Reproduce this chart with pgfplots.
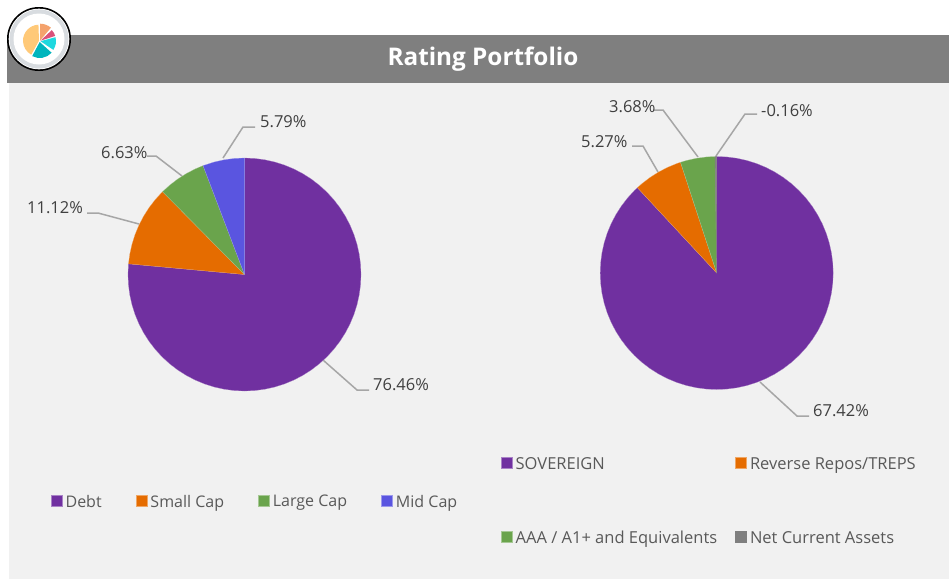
\documentclass[border=0pt]{standalone}
\usepackage{fontspec}
\setmainfont{Open Sans}
\usepackage{pgfplots}
\pgfplotsset{compat=1.18}
\usepgfplotslibrary{polar}
\definecolor{cpurple}{HTML}{7030A0}
\definecolor{corange}{HTML}{E56C00}
\definecolor{cgreen}{HTML}{6AA44C}
\definecolor{cblue}{HTML}{5A55E0}
\definecolor{cgrey}{HTML}{7F7F7F}
\definecolor{cband}{HTML}{7F7F7F}
\definecolor{cbg}{HTML}{F1F1F1}
\definecolor{clead}{HTML}{A6A6A6}
\definecolor{clabel}{HTML}{404040}
\definecolor{clegend}{HTML}{595959}
\definecolor{iring}{HTML}{D8DCE0}
\definecolor{iyellow}{HTML}{FFC978}
\definecolor{iorange}{HTML}{F4A26C}
\definecolor{ipink}{HTML}{D9517A}
\definecolor{icyan}{HTML}{1ED8DF}
\definecolor{iteal}{HTML}{00B5BD}
\pgfplotsset{
  pie/.style={
    scale only axis, width=233pt, height=233pt,
    xmin=0, xmax=360, ymin=0, ymax=1,
    hide axis, clip=false, anchor=center,
    legend cell align=left,
    legend image code/.code={\fill[##1] (0pt,-4pt) rectangle (11pt,7pt);},
  },
  slice/.style={fill=#1, draw=white!40!#1, line width=0.2pt},
}
\newcommand{\fnt}{\fontsize{16.5}{18}\selectfont}
\begin{document}
\begin{tikzpicture}[x=1pt,y=1pt]
\path[use as bounding box] (0,0) rectangle (949pt,579pt);
% page furniture and leader lines, in pixel coordinates
\begin{axis}[at={(0pt,0pt)}, anchor=south west, scale only axis, width=949pt, height=579pt,
  xmin=0, xmax=949, ymin=0, ymax=579, y dir=reverse, hide axis, clip=false]
\addplot[fill=cband, draw=none] coordinates {(7,35)(949,35)(949,82.5)(7,82.5)};
\addplot[fill=cbg, draw=none] coordinates {(9,83)(949,83)(949,579)(9,579)};
\node[text=white, font=\fontsize{24.3}{28}\selectfont\bfseries] at (axis cs:483,59.5) {Rating Portfolio};
% leaders, left pie
\addplot[clead, line width=1.5pt] coordinates {(223,158)(243,127)(255,127)};
\addplot[clead, line width=1.5pt] coordinates {(182,176)(156,156)(147,156)};
\addplot[clead, line width=1.5pt] coordinates {(139,224)(98,213)(87,213)};
\addplot[clead, line width=1.5pt] coordinates {(323,360)(357,390)(369,390)};
% leaders, right pie
\addplot[clead, line width=1.5pt] coordinates {(658,172)(643,146)(632,146)};
\addplot[clead, line width=1.5pt] coordinates {(698,157)(663,110)(653,110)};
\addplot[clead, line width=1.5pt] coordinates {(716,156)(745,114)(757,114)};
\addplot[clead, line width=1.5pt] coordinates {(760,382)(797,416)(809,416)};
% data labels
\begin{scope}[every node/.style={text=clabel, font=\fnt, anchor=base west, inner sep=0pt}]
\node at (axis cs:260,127) {5.79\%};
\node at (axis cs:101,158) {6.63\%};
\node at (axis cs:27,213) {11.12\%};
\node at (axis cs:373,390) {76.46\%};
\node at (axis cs:581,147) {5.27\%};
\node at (axis cs:609,112) {3.68\%};
\node at (axis cs:761,116) {-0.16\%};
\node at (axis cs:813,416) {67.42\%};
\end{scope}
% icon
\fill[black] (axis cs:39,39) circle[radius=32pt];
\fill[white] (axis cs:39,39) circle[radius=30.3pt];
\fill[iring] (axis cs:39,39) circle[radius=29.5pt];
\fill[white] (axis cs:39,39) circle[radius=25.5pt];
\fill[iyellow] (axis cs:39,40.7) -- ++(92:16pt) arc[start angle=92,end angle=241,radius=16pt] -- cycle;
\fill[iorange] (axis cs:40,40.7) -- ++(90:17pt) arc[start angle=90,end angle=50,radius=17pt] -- cycle;
\fill[ipink] (axis cs:40.5,40.7) -- ++(43:15.5pt) arc[start angle=43,end angle=18,radius=15.5pt] -- cycle;
\fill[icyan] (axis cs:40.5,41.2) -- ++(15:15.5pt) arc[start angle=15,end angle=-34,radius=15.5pt] -- cycle;
\fill[iteal] (axis cs:39.7,42) -- ++(-42:16pt) arc[start angle=-42,end angle=-118,radius=16pt] -- cycle;
\end{axis}
% left pie: Debt 76.46, Small Cap 11.12, Large Cap 6.63, Mid Cap 5.79 (angles clockwise from 90)
\begin{polaraxis}[pie, at={(244.5pt,304.5pt)},
  legend columns=4,
  legend style={draw=none, fill=none, inner sep=0pt, outer sep=0pt, font=\fontsize{16}{18}\selectfont, text=clegend,
    at={(-0.3305,-0.4746)}, anchor=west,
    /tikz/every odd column/.append style={column sep=3.4pt},
    /tikz/every even column/.append style={column sep=34.2pt},
    nodes={inner sep=0pt}}]
\addplot[slice=cpurple] coordinates {(0,0)(90,1)(85,1)(80,1)(75,1)(70,1)(65,1)(60,1)(55,1)(50,1)(45,1)(40,1)(35,1)(30,1)(25,1)(20,1)(15,1)(10,1)(5,1)(0,1)(355,1)(350,1)(345,1)(340,1)(335,1)(330,1)(325,1)(320,1)(315,1)(310,1)(305,1)(300,1)(295,1)(290,1)(285,1)(280,1)(275,1)(270,1)(265,1)(260,1)(255,1)(250,1)(245,1)(240,1)(235,1)(230,1)(225,1)(220,1)(215,1)(210,1)(205,1)(200,1)(195,1)(190,1)(185,1)(180,1)(175,1)(174.74,1)(0,0)};
\addlegendentry{Debt}
\addplot[slice=corange] coordinates {(0,0)(174.74,1)(170,1)(165,1)(160,1)(155,1)(150,1)(145,1)(140,1)(135,1)(134.71,1)(0,0)};
\addlegendentry{Small Cap}
\addplot[slice=cgreen] coordinates {(0,0)(134.71,1)(130,1)(125,1)(120,1)(115,1)(110.84,1)(0,0)};
\addlegendentry{Large Cap}
\addplot[slice=cblue] coordinates {(0,0)(110.84,1)(105,1)(100,1)(95,1)(90,1)(0,0)};
\addlegendentry{Mid Cap}
\end{polaraxis}
% right pie: 67.42, 5.27, 3.68, -0.16 (drawn by absolute share of 76.53)
\begin{polaraxis}[pie, at={(716.7pt,306pt)},
  legend columns=2,
  legend style={draw=none, fill=none, inner sep=0pt, outer sep=0pt, font=\fnt, text=clegend,
    at={(-0.425,-0.479)}, anchor=west,
    /tikz/every odd column/.append style={column sep=3.3pt},
    /tikz/every even column/.append style={column sep=18pt},
    /tikz/row sep=60pt,
    nodes={inner sep=0pt}}]
\addplot[slice=cpurple] coordinates {(0,0)(90,1)(85,1)(80,1)(75,1)(70,1)(65,1)(60,1)(55,1)(50,1)(45,1)(40,1)(35,1)(30,1)(25,1)(20,1)(15,1)(10,1)(5,1)(0,1)(355,1)(350,1)(345,1)(340,1)(335,1)(330,1)(325,1)(320,1)(315,1)(310,1)(305,1)(300,1)(295,1)(290,1)(285,1)(280,1)(275,1)(270,1)(265,1)(260,1)(255,1)(250,1)(245,1)(240,1)(235,1)(230,1)(225,1)(220,1)(215,1)(210,1)(205,1)(200,1)(195,1)(190,1)(185,1)(180,1)(175,1)(170,1)(165,1)(160,1)(155,1)(150,1)(145,1)(140,1)(135,1)(132.9,1)(0,0)};
\addlegendentry{SOVEREIGN}
\addplot[slice=corange] coordinates {(0,0)(132.9,1)(130,1)(125,1)(120,1)(115,1)(110,1)(108.1,1)(0,0)};
\addlegendentry{Reverse Repos/TREPS}
\addplot[slice=cgreen] coordinates {(0,0)(108.1,1)(105,1)(100,1)(95,1)(90.8,1)(0,0)};
\addlegendentry{AAA / A1+ and Equivalents}
\addplot[fill=cgrey, draw=cgrey, line width=0.5pt] coordinates {(0,0)(90.8,1)(90,1)(0,0)};
\addlegendentry{Net Current Assets}
\end{polaraxis}
\end{tikzpicture}
\end{document}
